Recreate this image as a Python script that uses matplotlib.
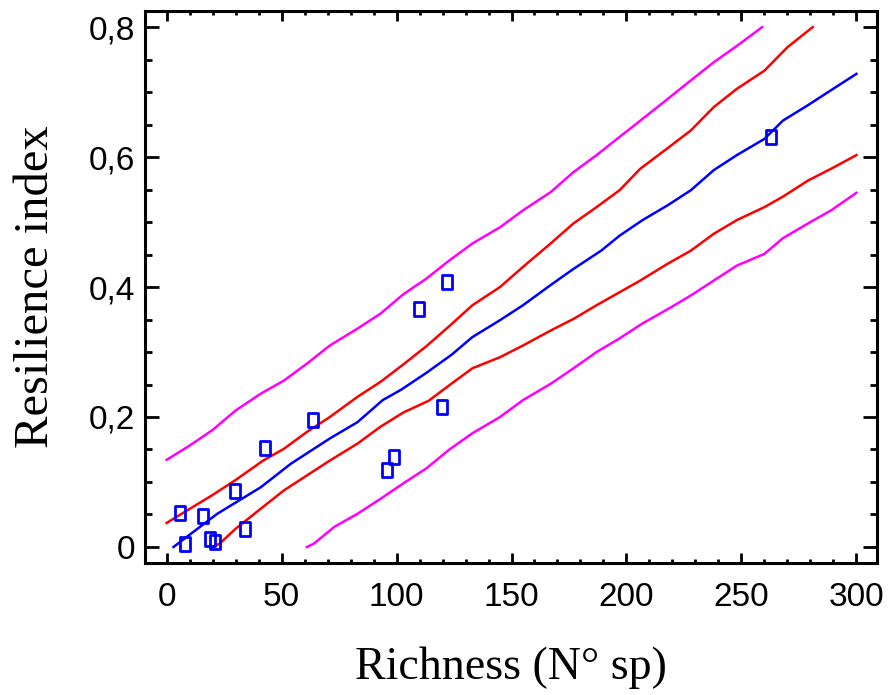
import matplotlib
matplotlib.use("Agg")
import matplotlib.pyplot as plt
from matplotlib.ticker import MultipleLocator, FuncFormatter
from matplotlib.path import Path

# Observed data points
richness = [5.8, 8.0, 15.9, 18.8, 21.0, 29.9, 33.9, 42.9, 63.8, 95.9, 98.9, 109.8, 119.9, 122.0, 263.0]
resilience = [0.053, 0.004, 0.047, 0.013, 0.008, 0.086, 0.028, 0.153, 0.196, 0.119, 0.138, 0.366, 0.216, 0.408, 0.631]

# Fitted line
fit_x = [3, 22, 41, 54, 71, 83, 94, 102, 113, 124, 133, 145, 155, 167, 177, 189, 197, 207, 218, 228, 238, 248, 260, 268, 279, 289, 300]
fit_y = [0.0, 0.051, 0.092, 0.128, 0.167, 0.192, 0.226, 0.242, 0.268, 0.296, 0.323, 0.349, 0.372, 0.403, 0.428, 0.456, 0.479, 0.503, 0.526, 0.549, 0.58, 0.603, 0.628, 0.656, 0.68, 0.703, 0.728]

# Confidence limits (red)
conf_up_x = [0, 20, 30, 42, 51, 61, 71, 83, 93, 103, 113, 123, 133, 145, 155, 167, 177, 187, 197, 206, 218, 228, 238, 248, 260, 270, 281]
conf_up_y = [0.037, 0.080, 0.103, 0.133, 0.151, 0.177, 0.200, 0.231, 0.254, 0.281, 0.309, 0.340, 0.372, 0.400, 0.431, 0.467, 0.498, 0.523, 0.549, 0.582, 0.614, 0.641, 0.677, 0.705, 0.733, 0.769, 0.800]
conf_lo_x = [20, 23, 30, 41, 51, 61, 71, 83, 93, 103, 114, 123, 133, 145, 155, 167, 177, 187, 197, 206, 218, 228, 238, 248, 260, 268, 279, 289, 300]
conf_lo_y = [0.0, 0.005, 0.028, 0.059, 0.087, 0.110, 0.133, 0.159, 0.185, 0.207, 0.225, 0.249, 0.275, 0.292, 0.310, 0.333, 0.351, 0.372, 0.392, 0.410, 0.436, 0.456, 0.482, 0.503, 0.523, 0.539, 0.564, 0.582, 0.603]

# Prediction limits (magenta)
pred_up_x = [0, 10, 20, 30, 41, 51, 61, 71, 83, 93, 103, 113, 123, 133, 145, 155, 167, 177, 187, 197, 206, 216, 228, 238, 248, 259]
pred_up_y = [0.134, 0.156, 0.180, 0.210, 0.236, 0.256, 0.282, 0.310, 0.336, 0.359, 0.389, 0.413, 0.441, 0.467, 0.492, 0.518, 0.546, 0.577, 0.603, 0.631, 0.656, 0.684, 0.718, 0.746, 0.771, 0.800]
pred_lo_x = [61, 64, 73, 83, 93, 103, 113, 123, 133, 145, 155, 167, 177, 187, 197, 207, 218, 228, 238, 248, 260, 268, 279, 289, 300]
pred_lo_y = [0.0, 0.005, 0.031, 0.051, 0.074, 0.098, 0.121, 0.150, 0.175, 0.200, 0.226, 0.251, 0.275, 0.300, 0.321, 0.344, 0.366, 0.387, 0.410, 0.433, 0.451, 0.475, 0.498, 0.518, 0.545]

x_ticks = [0, 50, 100, 150, 200, 250, 300]
y_ticks = [0, 0.2, 0.4, 0.6, 0.8]

fig = plt.figure(figsize=(8.95, 6.95), dpi=100)
ax = fig.add_axes([0.162, 0.190, 0.818, 0.794])

lw = 1.8
ax.plot(pred_up_x, pred_up_y, color="#ff00ff", lw=lw)
ax.plot(pred_lo_x, pred_lo_y, color="#ff00ff", lw=lw)
ax.plot(conf_up_x, conf_up_y, color="#ff0000", lw=lw)
ax.plot(conf_lo_x, conf_lo_y, color="#ff0000", lw=lw)
ax.plot(fit_x, fit_y, color="#0000ff", lw=lw)

rect = Path([(-0.36, -0.5), (0.36, -0.5), (0.36, 0.5), (-0.36, 0.5), (-0.36, -0.5)],
            [Path.MOVETO, Path.LINETO, Path.LINETO, Path.LINETO, Path.CLOSEPOLY])
ax.plot(richness, resilience, linestyle="none", marker=rect, markersize=10,
        markerfacecolor="none", markeredgecolor="#0000ff", markeredgewidth=2.0, zorder=5)

ax.set_xlim(-9.4, 309)
ax.set_ylim(-0.0246, 0.8246)

ax.set_xticks(x_ticks)
ax.set_yticks(y_ticks)
ax.xaxis.set_minor_locator(MultipleLocator(10))
ax.yaxis.set_minor_locator(MultipleLocator(0.05))
ax.yaxis.set_major_formatter(FuncFormatter(lambda v, p: "0" if abs(v) < 1e-9 else f"{v:.1f}".replace(".", ",")))
ax.xaxis.set_major_formatter(FuncFormatter(lambda v, p: f"{int(round(v))}"))

for s in ax.spines.values():
    s.set_linewidth(2.2)

ax.tick_params(axis="x", which="major", direction="in", length=7.5, width=2, top=True, bottom=True, pad=14)
ax.tick_params(axis="x", which="minor", direction="in", length=3, width=2, top=True, bottom=True)
ax.tick_params(axis="y", which="major", direction="in", length=10, width=2, left=True, right=True, pad=7)
ax.tick_params(axis="y", which="minor", direction="in", length=5, width=2, left=True, right=True)

for lab in ax.get_xticklabels() + ax.get_yticklabels():
    lab.set_fontfamily("Liberation Sans")
    lab.set_fontsize(24)

ax.set_xlabel("Richness (N° sp)", fontfamily="Liberation Serif", fontsize=33, labelpad=24)
ax.set_ylabel("Resilience index", fontfamily="Liberation Serif", fontsize=35, labelpad=22)

fig.savefig("out.png", dpi=100)
